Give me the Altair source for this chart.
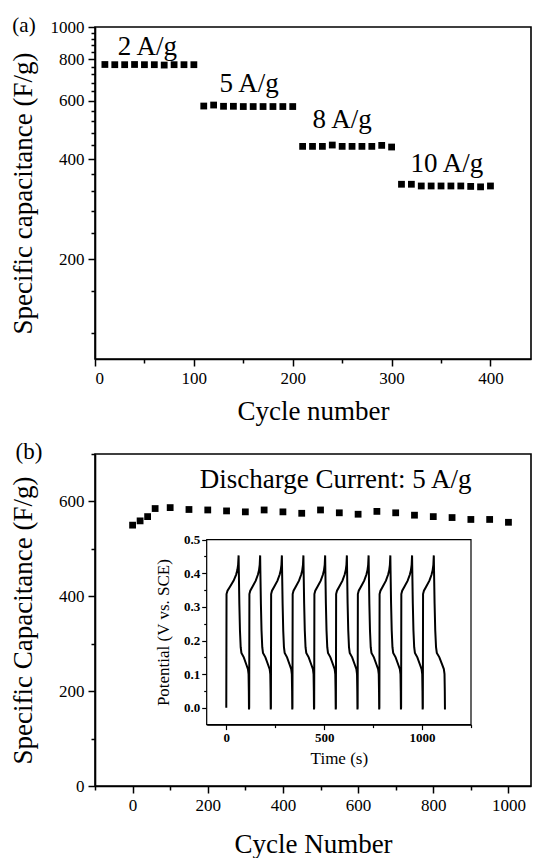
import altair as alt
import pandas as pd

FONT = "Liberation Serif"

# ---------------- Panel (a): rate capability ----------------
cycles_a = [10, 20, 30, 40, 50, 60, 70, 80, 90, 100,
            110, 120, 130, 140, 150, 160, 170, 180, 190, 200,
            210, 220, 230, 240, 250, 260, 270, 280, 290, 300,
            310, 320, 330, 340, 350, 360, 370, 380, 390, 400]
cap_a = [771, 770, 770, 771, 770, 770, 768, 770, 770, 770,
         578, 582, 577, 577, 576, 576, 576, 576, 576, 576,
         437, 437, 437, 441, 437, 437, 437, 437, 440, 435,
         336, 336, 332, 332, 332, 332, 332, 331, 330, 332]
rate_labels = ["2 A/g", "5 A/g", "8 A/g", "10 A/g"]
rate_x = [53, 156, 250, 356]
rate_y = [826, 635, 498, 366]
a_xticks = [0, 100, 200, 300, 400]
a_xminor = [50, 150, 250, 350]
a_yticks = [200, 400, 600, 800, 1000]
a_yminor = [120, 160, 240, 280, 320, 360, 440, 480, 520, 560,
            640, 680, 720, 760, 840, 880, 920, 960]

# ---------------- Panel (b): cycling stability ----------------
cycles_b = [0, 20, 40, 60, 100, 150, 200, 250, 300, 350, 400, 450, 500,
            550, 600, 650, 700, 750, 800, 850, 900, 950, 1000]
cap_b = [550, 559, 568, 585, 587, 583, 582, 580, 578, 582, 578, 575, 582,
         576, 573, 579, 576, 571, 568, 566, 562, 562, 556]
b_xticks = [0, 200, 400, 600, 800, 1000]
b_xminor = [-100, 100, 300, 500, 700, 900]
b_yticks = [0, 200, 400, 600]
b_yminor = [100, 300, 500, 700]

# ---------------- Inset: charge/discharge curves ----------------
cyc_start = [0, 117, 228, 338, 449, 560, 671, 782, 893, 1004]
cyc_peak = [63, 173, 284, 394, 505, 616, 727, 838, 949, 1060]
cyc_end = [116, 227, 337, 448, 559, 670, 781, 892, 1003, 1117]
ch_frac = [0.0, 0.02, 0.1, 0.3, 0.6, 0.8, 0.9, 0.96, 1.0]
ch_pot = [0.0, 0.338, 0.348, 0.36, 0.378, 0.396, 0.41, 0.425, 0.453]
dis_frac = [0.0, 0.02, 0.07, 0.13, 0.2, 0.27, 0.5, 0.75, 0.9, 0.96, 0.985, 1.0]
dis_pot = [0.453, 0.408, 0.31, 0.23, 0.18, 0.163, 0.15, 0.128, 0.115, 0.10, 0.05, -0.005]
in_xticks = [0, 500, 1000]
in_xminor = [250, 750, 1250]
in_yticks = [0.0, 0.1, 0.2, 0.3, 0.4, 0.5]
in_yminor = [0.05, 0.15, 0.25, 0.35, 0.45]

rows = []
seq = 0
for s, p, e in zip(cyc_start, cyc_peak, cyc_end):
    for f, v in zip(ch_frac, ch_pot):
        rows.append({"t": s + f * (p - s), "v": v, "seq": seq})
        seq += 1
    for f, v in zip(dis_frac[1:], dis_pot[1:]):
        rows.append({"t": p + f * (e - p), "v": v, "seq": seq})
        seq += 1
df_inset = pd.DataFrame(rows)

df_a = pd.DataFrame({"cycle": cycles_a, "cap": cap_a})
df_a_lab = pd.DataFrame({"x": rate_x, "y": rate_y, "label": rate_labels})
df_b = pd.DataFrame({"cycle": cycles_b, "cap": cap_b})

# ---------------- geometry ----------------
W_A, H_A = 436, 332
W_B, H_B = 436, 332
IN_L, IN_R, IN_T, IN_B = 111.7, 376.0, 85.6, 270.6

MAJ = dict(tickSize=7, tickWidth=1.5, domainWidth=1.6, domainColor="black",
           tickColor="black", labelColor="black", titleColor="black",
           labelFont=FONT, titleFont=FONT, labelFontSize=17, titleFontSize=27,
           titleFontWeight="normal", grid=False)
MIN = dict(tickSize=4, tickWidth=1.5, domain=False, labels=False, title=None,
           tickColor="black", grid=False)

# ---------------- Panel (a) ----------------
xa = alt.Scale(domain=[0, 441], nice=False, zero=False)
ya = alt.Scale(type="log", domain=[100, 1000], nice=False)

a_pts = alt.Chart(df_a).mark_square(size=46, color="black", opacity=1).encode(
    x=alt.X("cycle:Q", scale=xa,
            axis=alt.Axis(orient="bottom", values=a_xticks, format="d",
                          title="Cycle number", labelPadding=4, titlePadding=12, **MAJ)),
    y=alt.Y("cap:Q", scale=ya,
            axis=alt.Axis(orient="left", values=a_yticks, format="d",
                          title="Specific capacitance (F/g)", labelPadding=4,
                          titlePadding=13, **MAJ)),
)
a_minor = alt.Chart(df_a).mark_square(opacity=0).encode(
    x=alt.X("cycle:Q", scale=xa, axis=alt.Axis(orient="bottom", values=a_xminor, **MIN)),
    y=alt.Y("cap:Q", scale=ya, axis=alt.Axis(orient="left", values=a_yminor, **MIN)),
)
a_text = alt.Chart(df_a_lab).mark_text(font=FONT, fontSize=27, color="black",
                                       align="center", baseline="alphabetic").encode(
    x=alt.X("x:Q", scale=xa, axis=None),
    y=alt.Y("y:Q", scale=ya, axis=None),
    text="label:N",
)
a_tag = alt.Chart(alt.Data(values=[{}])).mark_text(
    text="(a)", font=FONT, fontSize=21, color="black", align="center",
    baseline="middle").encode(x=alt.value(-71), y=alt.value(-1))

panel_a = alt.layer(a_pts, a_minor, a_text, a_tag).resolve_axis(
    x="independent", y="independent").properties(width=W_A, height=H_A)

# ---------------- Panel (b) ----------------
xb = alt.Scale(domain=[-100, 1060], nice=False, zero=False)
yb = alt.Scale(domain=[0, 700], nice=False, zero=False)
xi = alt.Scale(domain=[-100, 1250], nice=False, zero=False, range=[IN_L, IN_R])
yi = alt.Scale(domain=[-0.05, 0.5], nice=False, zero=False, range=[IN_B, IN_T])

b_pts = alt.Chart(df_b).mark_square(size=46, color="black", opacity=1).encode(
    x=alt.X("cycle:Q", scale=xb,
            axis=alt.Axis(orient="bottom", values=b_xticks, format="d",
                          title="Cycle Number", labelPadding=4, titlePadding=18, **MAJ)),
    y=alt.Y("cap:Q", scale=yb,
            axis=alt.Axis(orient="left", values=b_yticks, format="d",
                          title="Specific Capacitance (F/g)", labelPadding=4,
                          titlePadding=21, **MAJ)),
)
b_minor = alt.Chart(df_b).mark_square(opacity=0).encode(
    x=alt.X("cycle:Q", scale=xb, axis=alt.Axis(orient="bottom", values=b_xminor, **MIN)),
    y=alt.Y("cap:Q", scale=yb, axis=alt.Axis(orient="left", values=b_yminor, **MIN)),
)
b_text = alt.Chart(alt.Data(values=[{"x": 540, "y": 629, "label": "Discharge Current: 5 A/g"}])).mark_text(
    font=FONT, fontSize=27, color="black", align="center", baseline="alphabetic").encode(
    x=alt.X("x:Q", scale=xb, axis=None),
    y=alt.Y("y:Q", scale=yb, axis=None),
    text="label:N",
)
b_tag = alt.Chart(alt.Data(values=[{}])).mark_text(
    text="(b)", font=FONT, fontSize=23, color="black", align="center",
    baseline="middle").encode(x=alt.value(-66), y=alt.value(-2))

in_frame = alt.Chart(alt.Data(values=[{}])).mark_rect(
    fill="white", stroke="black", strokeWidth=1.2).encode(
    x=alt.value(IN_L), x2=alt.value(IN_R), y=alt.value(IN_T), y2=alt.value(IN_B))

IN_AX = dict(tickWidth=1.2, domainWidth=1.2, domainColor="black", tickColor="black",
             labelColor="black", titleColor="black", labelFont=FONT, titleFont=FONT,
             labelFontSize=13, labelFontWeight="bold", titleFontSize=17,
             titleFontWeight="normal", grid=False)
in_line = alt.Chart(df_inset).mark_line(color="black", strokeWidth=2).encode(
    x=alt.X("t:Q", scale=xi,
            axis=alt.Axis(orient="bottom", offset=IN_B - H_B, values=in_xticks, format="d",
                          title="Time (s)", tickSize=5, labelPadding=2, titlePadding=6, **IN_AX)),
    y=alt.Y("v:Q", scale=yi,
            axis=alt.Axis(orient="left", offset=-IN_L, values=in_yticks, format=".1f",
                          title="Potential (V vs. SCE)", tickSize=5, labelPadding=2,
                          titlePadding=11, **IN_AX)),
    order="seq:Q",
)
in_minor = alt.Chart(df_inset).mark_point(opacity=0).encode(
    x=alt.X("t:Q", scale=xi, axis=alt.Axis(orient="bottom", offset=IN_B - H_B,
                                            values=in_xminor, tickSize=3, tickWidth=1.2,
                                            domain=False, labels=False, title=None,
                                            tickColor="black", grid=False)),
    y=alt.Y("v:Q", scale=yi, axis=alt.Axis(orient="left", offset=-IN_L,
                                            values=in_yminor, tickSize=3, tickWidth=1.2,
                                            domain=False, labels=False, title=None,
                                            tickColor="black", grid=False)),
)

panel_b = alt.layer(b_pts, b_minor, b_text, b_tag, in_frame, in_line, in_minor).resolve_scale(
    x="independent", y="independent").resolve_axis(
    x="independent", y="independent").properties(width=W_B, height=H_B)

chart = alt.vconcat(panel_a, panel_b, spacing=15).properties(
    padding={"left": 0, "top": 6, "right": 0, "bottom": 0}
).configure_view(stroke="black", strokeWidth=1.6)

chart.save("out.html", embed_options={"renderer": "svg", "actions": False})
